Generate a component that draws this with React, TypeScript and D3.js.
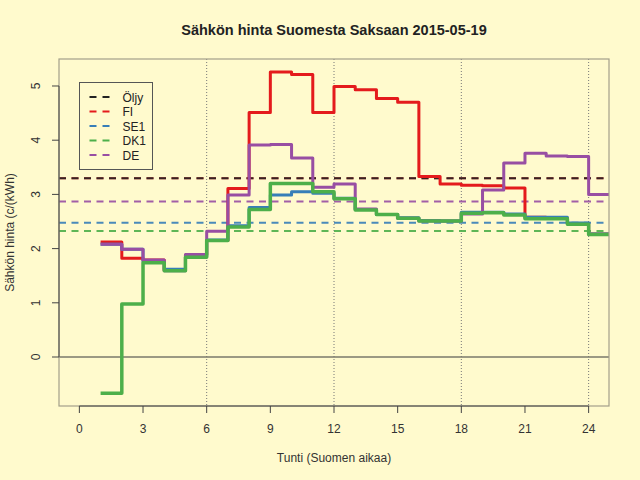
import * as d3 from "d3"

// hourly prices c/kWh, hours 1..24 (Finnish time)
const hours = d3.range(1, 25)
const fiValues = [2.12, 1.82, 1.79, 1.6, 1.88, 2.15, 3.11, 4.51, 5.26, 5.21, 4.51, 4.99, 4.93, 4.77, 4.7, 3.33, 3.19, 3.17, 3.16, 3.12, 2.58, 2.56, 2.46, 2.27]
const se1Values = [2.08, 1.99, 1.76, 1.62, 1.86, 2.16, 2.42, 2.76, 2.99, 3.05, 3.02, 2.93, 2.72, 2.63, 2.57, 2.52, 2.51, 2.67, 2.67, 2.64, 2.58, 2.58, 2.47, 2.27]
const dk1Values = [-0.67, 0.98, 1.74, 1.59, 1.84, 2.15, 2.4, 2.72, 3.2, 3.2, 3.05, 2.92, 2.71, 2.63, 2.56, 2.51, 2.51, 2.65, 2.66, 2.62, 2.55, 2.55, 2.45, 2.26]
const deValues = [2.08, 1.99, 1.79, 1.59, 1.89, 2.32, 2.99, 3.91, 3.92, 3.67, 3.13, 3.19, 2.73, 2.63, 2.56, 2.51, 2.51, 2.64, 3.08, 3.58, 3.76, 3.71, 3.7, 3.0]
const oilPrice = 3.3

const xTicks = [0, 3, 6, 9, 12, 15, 18, 21, 24]
const yTicks = [0, 1, 2, 3, 4, 5]
const dayLines = [6, 12, 18, 24]

const legendNames = ["Öljy", "FI", "SE1", "DK1", "DE"]
const legendColors = ["#222222", "#E41A1C", "#377EB8", "#4DAF4A", "#984EA3"]

type Series = { name: string; values: number[]; color: string; width: number }

// draw order: FI, SE1, DE, DK1
const series: Series[] = [
  { name: "FI", values: fiValues, color: "#E41A1C", width: 3 },
  { name: "SE1", values: se1Values, color: "#377EB8", width: 3 },
  { name: "DE", values: deValues, color: "#984EA3", width: 3 },
  { name: "DK1", values: dk1Values, color: "#4DAF4A", width: 3.5 },
]

const W = 640
const H = 480
const plot = { left: 59, right: 609, top: 59, bottom: 406 }
const bg = "#FFFACD"
const dash = "7 5.5"

export default function App() {
  const x = d3.scaleLinear([-0.96, 24.96], [plot.left, plot.right])
  const y = d3.scaleLinear([-0.904, 5.498], [plot.bottom, plot.top])

  const line = d3
    .line<[number, number]>()
    .x((d) => x(d[0]))
    .y((d) => y(d[1]))
    .curve(d3.curveStepAfter)

  const stepPoints = (vals: number[]): [number, number][] => {
    const pts = hours.map((h, i) => [h, vals[i]] as [number, number])
    pts.push([25, vals[vals.length - 1]])
    return pts
  }

  // horizontal reference lines: oil price and daily means
  const refLines = [
    { color: "#984EA3", v: d3.mean(deValues)! },
    { color: "#4DAF4A", v: d3.mean(dk1Values)! },
    { color: "#377EB8", v: d3.mean(se1Values)! },
    { color: "#E41A1C", v: d3.mean(fiValues)! },
    { color: "#222222", v: oilPrice },
  ]

  const font = "'Liberation Sans', Arial, Helvetica, sans-serif"
  const legendX = 79.5
  const legendY = 82.5

  return (
    <svg
      width={W}
      height={H}
      style={{ position: "absolute", left: 0, top: 0, background: bg }}
      fontFamily={font}
    >
      <rect width={W} height={H} fill={bg} />
      <defs>
        <clipPath id="plotClip">
          <rect x={plot.left} y={plot.top} width={plot.right - plot.left} height={plot.bottom - plot.top} />
        </clipPath>
      </defs>

      <text x={334} y={35} textAnchor="middle" fontSize={14.5} fontWeight="bold" fill="#222">
        Sähkön hinta Suomesta Saksaan 2015-05-19
      </text>

      <g clipPath="url(#plotClip)">
        {dayLines.map((d) => (
          <line
            key={d}
            x1={x(d)}
            x2={x(d)}
            y1={plot.top}
            y2={plot.bottom}
            stroke="#777"
            strokeWidth={1}
            strokeDasharray="1 2"
          />
        ))}
        <line x1={plot.left} x2={plot.right} y1={y(0)} y2={y(0)} stroke="#7a786a" strokeWidth={1.3} />

        {refLines.map((r) => (
          <line
            key={r.color}
            x1={plot.left}
            x2={plot.right}
            y1={y(r.v)}
            y2={y(r.v)}
            stroke={r.color}
            strokeWidth={2}
            strokeDasharray={dash}
            opacity={0.9}
          />
        ))}

        {series.map((s) => (
          <path
            key={s.name}
            d={line(stepPoints(s.values)) ?? ""}
            fill="none"
            stroke={s.color}
            strokeWidth={s.width}
            strokeLinejoin="round"
          />
        ))}
      </g>

      <rect
        x={plot.left}
        y={plot.top}
        width={plot.right - plot.left}
        height={plot.bottom - plot.top}
        fill="none"
        stroke="#a39f8a"
        strokeWidth={1.2}
      />

      {/* x axis */}
      <line x1={x(0)} x2={x(24)} y1={plot.bottom} y2={plot.bottom} stroke="#444" />
      {xTicks.map((t) => (
        <g key={t} transform={`translate(${x(t)},0)`}>
          <line y1={plot.bottom} y2={plot.bottom + 7} stroke="#444" />
          <text y={433} textAnchor="middle" fontSize={12} fill="#333">
            {t}
          </text>
        </g>
      ))}
      <text x={334} y={462} textAnchor="middle" fontSize={12} fill="#333">
        Tunti (Suomen aikaa)
      </text>

      {/* y axis */}
      <line x1={plot.left} x2={plot.left} y1={y(0)} y2={y(5)} stroke="#444" />
      {yTicks.map((t) => (
        <g key={t} transform={`translate(0,${y(t)})`}>
          <line x1={plot.left - 7} x2={plot.left} stroke="#444" />
          <text transform="translate(40,0) rotate(-90)" textAnchor="middle" fontSize={12} fill="#333">
            {t}
          </text>
        </g>
      ))}
      <text
        transform={`translate(14,${(plot.top + plot.bottom) / 2}) rotate(-90)`}
        textAnchor="middle"
        fontSize={12}
        fill="#333"
      >
        Sähkön hinta (c/(kWh)
      </text>

      {/* legend */}
      <rect x={legendX} y={legendY} width={73} height={87} fill={bg} stroke="#555" strokeWidth={1} />
      {legendNames.map((n, i) => {
        const ly = legendY + 14.5 + i * 14.5
        return (
          <g key={n}>
            <line
              x1={89.5}
              x2={109.5}
              y1={ly}
              y2={ly}
              stroke={legendColors[i]}
              strokeWidth={2}
              strokeDasharray="7 6"
            />
            <text x={122.5} y={ly + 4.5} fontSize={12} fill="#222">
              {n}
            </text>
          </g>
        )
      })}
    </svg>
  )
}
